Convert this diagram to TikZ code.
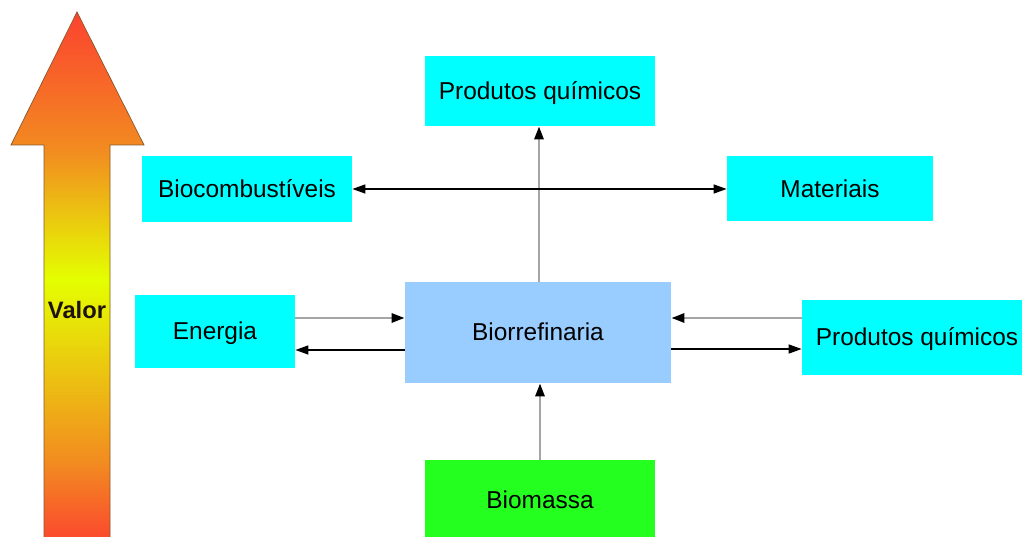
\documentclass[tikz,border=0pt]{standalone}
\usepackage{fontspec}
\setmainfont{Liberation Sans}
\usepackage{tikz}
\usetikzlibrary{positioning, arrows.meta}

\definecolor{boxcyan}{RGB}{0,255,255}
\definecolor{refblue}{RGB}{153,204,255}
\definecolor{massgreen}{RGB}{36,255,32}
\definecolor{linegray}{RGB}{165,165,165}
\definecolor{vred}{RGB}{252,66,48}
\definecolor{vorange}{RGB}{242,140,32}
\definecolor{vyellow}{RGB}{228,255,0}

\pgfdeclareverticalshading{valorshade}{100bp}{color(0bp)=(vred); color(25bp)=(vred); color(33bp)=(vorange); color(50bp)=(vyellow); color(62bp)=(vorange); color(75bp)=(vred); color(100bp)=(vred)}

\begin{document}
\begin{tikzpicture}[
    >={Triangle[length=0.26cm, width=0.18cm, color=black]},
    box/.style={rectangle, fill=boxcyan, inner sep=0pt, text height=0.95em, text depth=0pt, font=\fontsize{13.9}{16}\selectfont, anchor=center},
    garr/.style={->, line width=1.6pt, linegray},
    barr/.style={->, line width=0.8pt, black}
]
\useasboundingbox (0,0) rectangle (20.44,10.74);

% Value arrow
\shade[shading=valorshade, draw=brown!70!black, line width=0.4pt]
    (1.54,10.5) -- (2.88,7.84) -- (2.2,7.84) -- (2.2,-0.2) -- (0.88,-0.2) -- (0.88,7.84) -- (0.22,7.84) -- cycle;
\node[font=\fontsize{13.5}{16}\selectfont\bfseries, text=black!85!brown] (valor) at (1.54,4.54) {Valor};

% Boxes
\node[box, minimum width=4.6cm, minimum height=1.4cm] (pqtop) at (10.8,8.92) {Produtos químicos};
\node[box, minimum width=4.2cm, minimum height=1.32cm] (biocomb) at (4.94,6.96) {Biocombustíveis};
\node[box, minimum width=4.12cm, minimum height=1.3cm] (materiais) at (16.6,6.96) {Materiais};
\node[box, minimum width=3.2cm, minimum height=1.46cm] (energia) at (4.3,4.11) {Energia};
\node[box, fill=refblue, minimum width=5.32cm, minimum height=2.02cm] (biorref) at (10.76,4.09) {Biorrefinaria};
\node[box, minimum width=4.6cm, minimum height=1.5cm] (pqright) at (18.34,3.99) {Produtos químicos};
\node[box, fill=massgreen, minimum width=4.6cm, minimum height=1.62cm] (biomassa) at (10.8,0.73) {Biomassa};

% Connectors
\draw[garr] (biorref.north -| 10.78,0) -- (pqtop.south -| 10.78,0);
\draw[barr, <->] (biocomb.east) -- (materiais.west);
\draw[garr] ([yshift=0.27cm]energia.east) -- ([yshift=0.27cm]energia.east -| biorref.west);
\draw[barr] ([yshift=-0.37cm]energia.east -| biorref.west) -- ([yshift=-0.37cm]energia.east);
\draw[garr] ([yshift=0.39cm]pqright.west) -- ([yshift=0.39cm]pqright.west -| biorref.east);
\draw[barr] ([yshift=-0.23cm]pqright.west -| biorref.east) -- ([yshift=-0.23cm]pqright.west);
\draw[garr] (biomassa.north) -- (biomassa.north |- biorref.south);

\end{tikzpicture}
\end{document}
